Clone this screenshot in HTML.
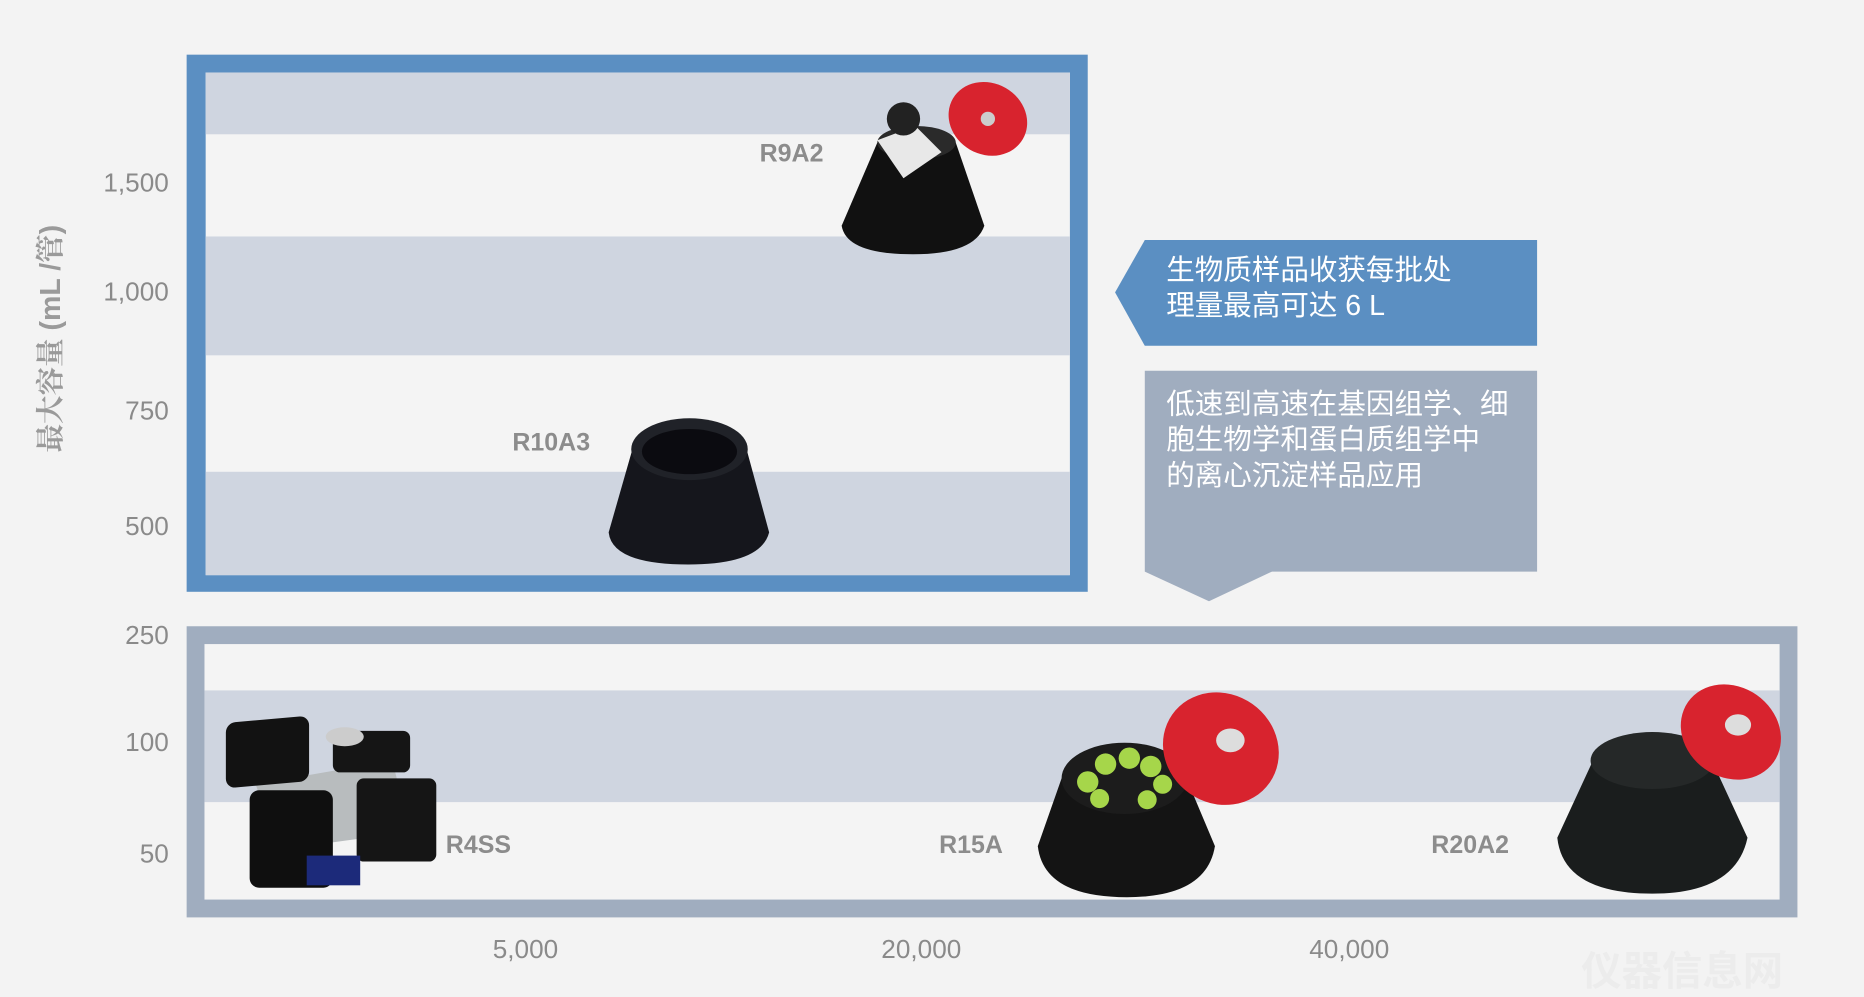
<!DOCTYPE html>
<html><head><meta charset="utf-8">
<style>
html,body{margin:0;padding:0;background:#f3f3f3;overflow:hidden;}
#w{position:absolute;left:0;top:0;width:1568px;height:823px;transform-origin:0 0;transform:scale(1.18878,1.18834);background:#f3f3f3;font-family:"Liberation Sans","Noto Sans CJK SC",sans-serif;}
.a{position:absolute;}
.yl{position:absolute;right:1426px;font-size:22px;color:#8a8a8a;line-height:22px;}
.xl{position:absolute;font-size:22px;color:#8a8a8a;transform:translateX(-50%);}
.lb{position:absolute;font-size:21px;font-weight:bold;color:#8c8c8c;}
.ct{position:absolute;color:#fff;font-size:24px;line-height:30px;font-family:"Liberation Sans","Noto Sans CJK SC",sans-serif;}
</style></head><body><div id="w">
<div class="a" style="left:157px;top:46px;width:758px;height:452px;background:#5b8fc2"></div>
<div class="a" style="left:173px;top:61px;width:727px;height:423px;background:#f4f4f4"></div>
<div class="a" style="left:173px;top:61px;width:727px;height:52px;background:#cfd5e0"></div>
<div class="a" style="left:173px;top:199px;width:727px;height:100px;background:#cfd5e0"></div>
<div class="a" style="left:173px;top:397px;width:727px;height:87px;background:#cfd5e0"></div>
<div class="a" style="left:157px;top:527px;width:1355px;height:245px;background:#a0adbf"></div>
<div class="a" style="left:172px;top:542px;width:1325px;height:215px;background:#f4f4f4"></div>
<div class="a" style="left:172px;top:581px;width:1325px;height:94px;background:#cfd5e0"></div>
<div class="yl" style="top:143px">1,500</div>
<div class="yl" style="top:235px">1,000</div>
<div class="yl" style="top:335px">750</div>
<div class="yl" style="top:432px">500</div>
<div class="yl" style="top:524px">250</div>
<div class="yl" style="top:614px">100</div>
<div class="yl" style="top:708px">50</div>
<div class="a" style="left:40px;top:285px;transform:translate(-50%,-50%) rotate(-90deg);white-space:nowrap;font-size:24px;font-weight:bold;color:#9a9a9a;font-family:'Liberation Sans','Noto Serif CJK SC',serif;">最大容量 (mL /管)</div>
<div class="xl" style="left:442px;top:786px">5,000</div>
<div class="xl" style="left:775px;top:786px">20,000</div>
<div class="xl" style="left:1135px;top:786px">40,000</div>
<div class="a" style="left:1330px;top:790px;font-size:34px;font-weight:bold;color:#ececec;">仪器信息网</div>
<svg class="a" style="left:0;top:0" width="1568" height="823">
<polygon points="963,202 1293,202 1293,291 963,291 938,246" fill="#5b8fc2"/>
<polygon points="963,312 1293,312 1293,481 1070,481 1017,506 963,481" fill="#a0adbf"/>
<!-- R9A2 -->
<path d="M738,120 L804,120 L828,190 Q820,214 768,214 Q712,214 708,190 Z" fill="#111"/>
<ellipse cx="771" cy="120" rx="33" ry="14" fill="#2a2a2a"/>
<path d="M738,118 L770,106 L792,128 L760,150Z" fill="#e8e8e8"/>
<circle cx="760" cy="100" r="14" fill="#222"/>
<ellipse cx="831" cy="100" rx="34" ry="30" transform="rotate(30 831 100)" fill="#d8232e"/>
<circle cx="831" cy="100" r="6" fill="#ccc"/>
<!-- R10A3 -->
<path d="M532,378 L628,378 L647,448 Q640,475 579,475 Q515,475 512,448 Z" fill="#15161c"/>
<ellipse cx="580" cy="378" rx="49" ry="26" fill="#202228"/>
<ellipse cx="580" cy="380" rx="40" ry="19" fill="#0b0b10"/>
<!-- R4SS -->
<path d="M215,660 L330,640 L345,700 L235,715Z" fill="#b8bcbe"/>
<rect x="190" y="625" width="70" height="55" rx="8" fill="#121212" transform="skewY(-5)"/>
<rect x="280" y="615" width="65" height="35" rx="6" fill="#151515"/>
<rect x="300" y="655" width="67" height="70" rx="6" fill="#151515"/>
<rect x="210" y="665" width="70" height="82" rx="8" fill="#0f0f0f"/>
<rect x="258" y="720" width="45" height="25" fill="#1c2a7a"/>
<ellipse cx="290" cy="620" rx="16" ry="8" fill="#ccc"/>
<!-- R15A -->
<path d="M893,655 L998,655 L1022,712 Q1015,755 948,755 Q878,755 873,712 Z" fill="#141414"/>
<ellipse cx="946" cy="655" rx="53" ry="30" fill="#1c1c1c"/>
<g fill="#a6d64a"><circle cx="915" cy="658" r="9"/><circle cx="930" cy="643" r="9"/><circle cx="950" cy="638" r="9"/><circle cx="968" cy="645" r="9"/><circle cx="978" cy="660" r="8"/><circle cx="925" cy="672" r="8"/><circle cx="965" cy="673" r="8"/></g>
<ellipse cx="1027" cy="630" rx="50" ry="46" transform="rotate(35 1027 630)" fill="#d8232e"/>
<ellipse cx="1035" cy="623" rx="12" ry="10" fill="#ddd"/>
<!-- R20A2 -->
<path d="M1340,640 L1440,640 L1470,705 Q1460,752 1390,752 Q1315,752 1310,705 Z" fill="#1a1d1d"/>
<ellipse cx="1390" cy="640" rx="52" ry="24" fill="#252828"/>
<ellipse cx="1456" cy="616" rx="44" ry="38" transform="rotate(35 1456 616)" fill="#d8232e"/>
<ellipse cx="1462" cy="610" rx="11" ry="9" fill="#ddd"/>
</svg>
<div class="ct" style="left:981px;top:213px">生物质样品收获每批处<br>理量最高可达 6 L</div>
<div class="ct" style="left:981px;top:326px">低速到高速在基因组学、细<br>胞生物学和蛋白质组学中<br>的离心沉淀样品应用</div>
<div class="lb" style="left:639px;top:118px">R9A2</div>
<div class="lb" style="left:431px;top:361px">R10A3</div>
<div class="lb" style="left:375px;top:700px">R4SS</div>
<div class="lb" style="left:790px;top:700px">R15A</div>
<div class="lb" style="left:1204px;top:700px">R20A2</div>
</div></body></html>
